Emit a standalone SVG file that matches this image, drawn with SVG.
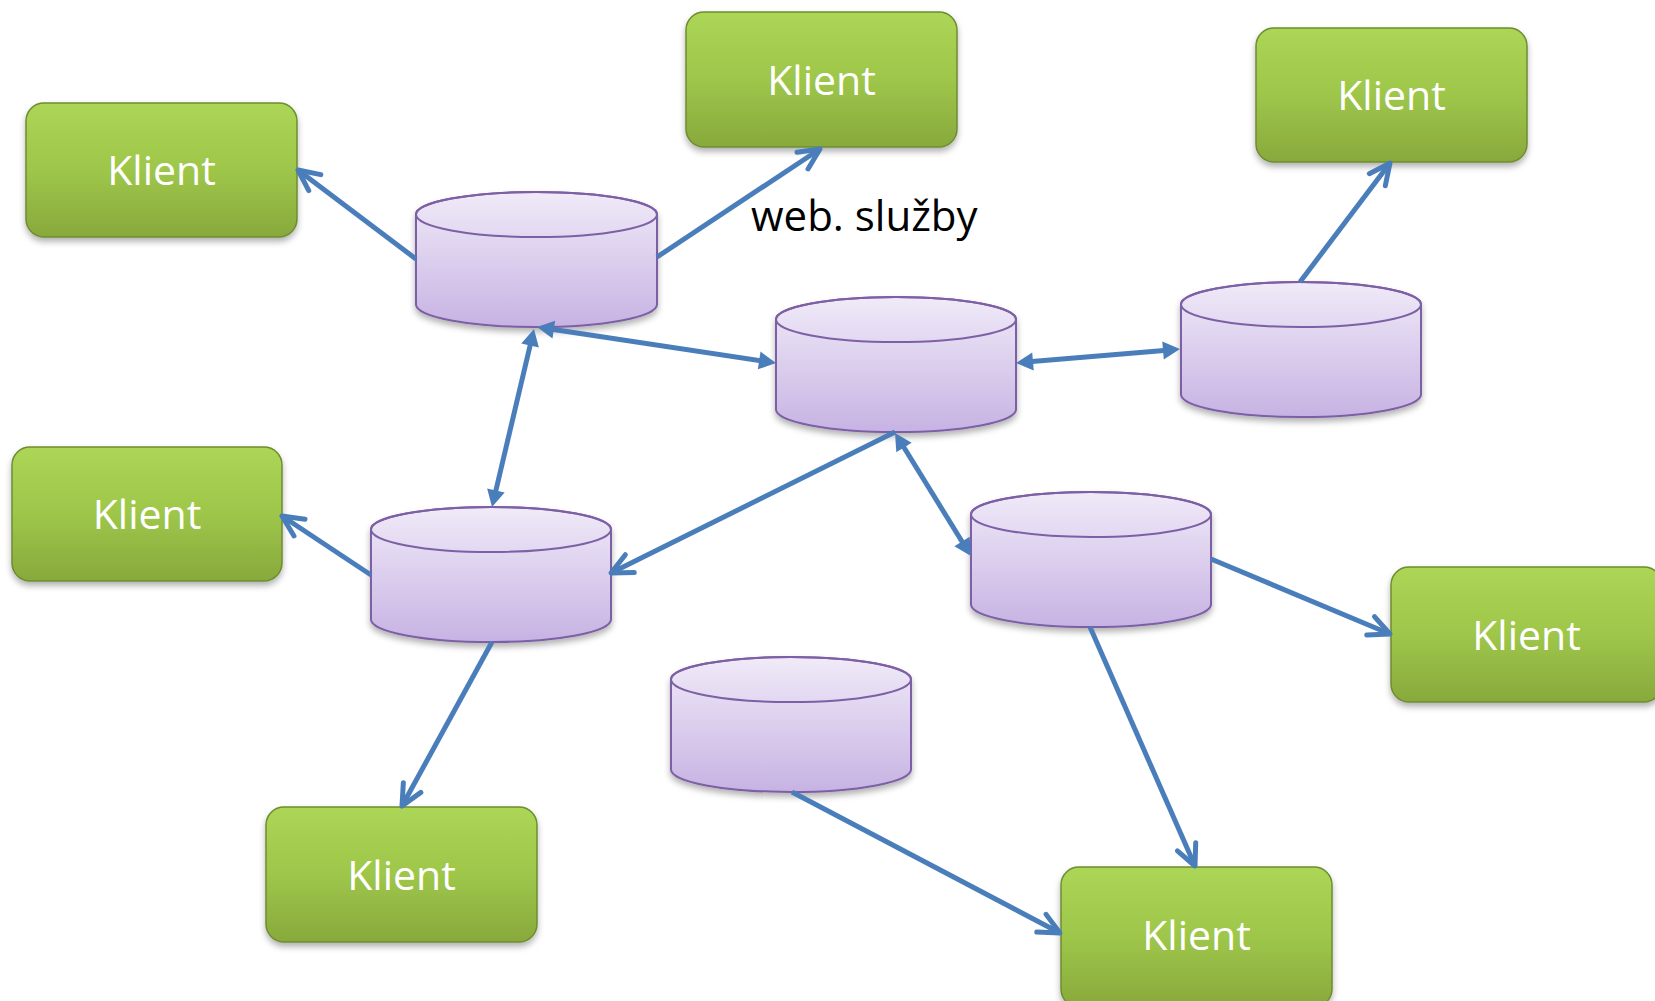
<svg xmlns="http://www.w3.org/2000/svg" width="1655" height="1001" viewBox="0 0 1655 1001">
<style>
.klient rect{fill:url(#gGreen);stroke:#6f8c30;stroke-width:1.5;filter:url(#shadow)}
.klient text{font-family:"Open Sans","Noto Sans",sans-serif;font-size:41px;fill:#ffffff;text-anchor:middle}
.db path.body{fill:url(#gPurple);stroke:#7d5fa5;stroke-width:2;filter:url(#shadow)}
.db ellipse{fill:none;stroke:#7d5fa5;stroke-width:2}
.conn line{stroke:#4a7ebb;stroke-width:5;fill:none}
.open{marker-end:url(#mOpen)}
.dbl{marker-start:url(#mFill);marker-end:url(#mFill)}
.label{font-family:"Open Sans","Noto Sans",sans-serif;font-size:42px;fill:#000000}
</style>
<defs>
<linearGradient id="gGreen" x1="0" y1="0" x2="0" y2="1">
<stop offset="0" stop-color="#acd656"/>
<stop offset="0.5" stop-color="#9ec64a"/>
<stop offset="1" stop-color="#88a93c"/>
</linearGradient>
<linearGradient id="gPurple" x1="0" y1="0" x2="0" y2="1">
<stop offset="0" stop-color="#f0eaf8"/>
<stop offset="1" stop-color="#c7b3e3"/>
</linearGradient>
<filter id="shadow" x="-10%" y="-10%" width="120%" height="130%">
<feDropShadow dx="0" dy="4" stdDeviation="3" flood-color="#000" flood-opacity="0.3"/>
</filter>
<marker id="mOpen" markerUnits="userSpaceOnUse" orient="auto" refX="0" refY="0" markerWidth="40" markerHeight="40" overflow="visible">
<path d="M-21,-10 L0,0 L-21,10" fill="none" stroke="#4a7ebb" stroke-width="5" stroke-linecap="round" stroke-linejoin="round"/>
</marker>
<marker id="mFill" markerUnits="userSpaceOnUse" orient="auto-start-reverse" refX="-10" refY="0" markerWidth="40" markerHeight="40" overflow="visible">
<path d="M0,0 L-17,-9 L-17,9 z" fill="#4a7ebb"/>
</marker>
</defs>
<rect width="1655" height="1001" fill="#ffffff"/>

<g id="klient-tl" class="klient"><rect x="26" y="103" width="271" height="134" rx="18"/><text x="161.5" y="185">Klient</text></g>
<g id="klient-tm" class="klient"><rect x="686" y="12" width="271" height="135" rx="18"/><text x="821.5" y="95">Klient</text></g>
<g id="klient-tr" class="klient"><rect x="1256" y="28" width="271" height="134" rx="18"/><text x="1391.5" y="110">Klient</text></g>
<g id="klient-ml" class="klient"><rect x="12" y="447" width="270" height="134" rx="18"/><text x="147" y="529">Klient</text></g>
<g id="klient-r" class="klient"><rect x="1391" y="567" width="271" height="135" rx="18"/><text x="1526.5" y="650">Klient</text></g>
<g id="klient-bl" class="klient"><rect x="266" y="807" width="271" height="135" rx="18"/><text x="401.5" y="890">Klient</text></g>
<g id="klient-br" class="klient"><rect x="1061" y="867" width="271" height="140" rx="18"/><text x="1196.5" y="950">Klient</text></g>

<g id="db-a" class="db"><path class="body" d="M416,214.5 L416,304.5 A120.5,22.5 0 0 0 657,304.5 L657,214.5 A120.5,22.5 0 0 0 416,214.5 z"/><ellipse cx="536.5" cy="214.5" rx="120.5" ry="22.5"/></g>
<g id="db-b" class="db"><path class="body" d="M776,319.5 L776,409.5 A120,22.5 0 0 0 1016,409.5 L1016,319.5 A120,22.5 0 0 0 776,319.5 z"/><ellipse cx="896" cy="319.5" rx="120" ry="22.5"/></g>
<g id="db-c" class="db"><path class="body" d="M1181,304.5 L1181,394.5 A120,22.5 0 0 0 1421,394.5 L1421,304.5 A120,22.5 0 0 0 1181,304.5 z"/><ellipse cx="1301" cy="304.5" rx="120" ry="22.5"/></g>
<g id="db-d" class="db"><path class="body" d="M371,529.5 L371,619.5 A120,22.5 0 0 0 611,619.5 L611,529.5 A120,22.5 0 0 0 371,529.5 z"/><ellipse cx="491" cy="529.5" rx="120" ry="22.5"/></g>
<g id="db-e" class="db"><path class="body" d="M971,514.5 L971,604.5 A120,22.5 0 0 0 1211,604.5 L1211,514.5 A120,22.5 0 0 0 971,514.5 z"/><ellipse cx="1091" cy="514.5" rx="120" ry="22.5"/></g>
<g id="db-f" class="db"><path class="body" d="M671,679.5 L671,769.5 A120,22.5 0 0 0 911,769.5 L911,679.5 A120,22.5 0 0 0 671,679.5 z"/><ellipse cx="791" cy="679.5" rx="120" ry="22.5"/></g>

<g id="connectors" class="conn">
<line class="open" x1="416" y1="259" x2="298" y2="170"/>
<line class="open" x1="657" y1="257" x2="820" y2="149"/>
<line class="dbl" x1="546.9" y1="328.5" x2="766.1" y2="361.5"/>
<line class="dbl" x1="531.7" y1="338.7" x2="494.3" y2="497.3"/>
<line class="dbl" x1="1026" y1="362.1" x2="1170" y2="349.9"/>
<line class="open" x1="895" y1="432" x2="611" y2="573"/>
<line class="dbl" x1="900.3" y1="441.5" x2="965.7" y2="547.5"/>
<line class="open" x1="1300" y1="282" x2="1390" y2="163"/>
<line class="open" x1="371" y1="575" x2="282" y2="516"/>
<line class="open" x1="492" y1="642" x2="402" y2="806"/>
<line class="open" x1="1211" y1="559" x2="1390" y2="634"/>
<line class="open" x1="1090" y1="627" x2="1195" y2="866"/>
<line class="open" x1="792" y1="792" x2="1060" y2="933"/>
</g>

<text id="label-web" class="label" x="751" y="231">web. služby</text>
</svg>
